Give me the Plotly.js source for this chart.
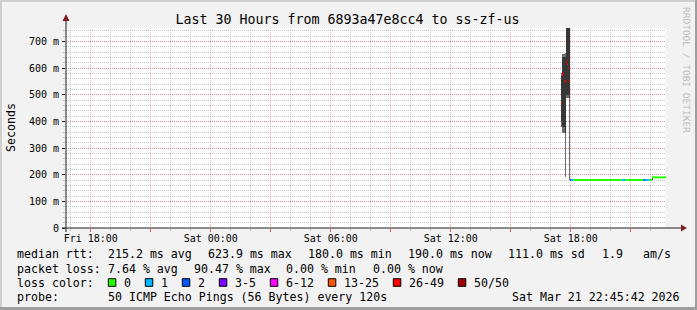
<!DOCTYPE html>
<html><head><meta charset="utf-8">
<script src="https://cdn.plot.ly/plotly-3.0.1.min.js"></script>
<style>
html,body{margin:0;padding:0;background:#f2f2f2;}
#wrap{position:relative;width:697px;height:310px;overflow:hidden;}
#chart{position:absolute;left:0;top:0;width:697px;height:310px;}
.b{position:absolute;pointer-events:none;}
</style></head><body>
<div id="wrap"><div id="chart"></div>
<div class="b" style="left:0;top:0;width:697px;height:2px;background:#cfcfcf"></div>
<div class="b" style="left:0;top:0;width:2px;height:310px;background:#cfcfcf"></div>
<div class="b" style="right:0;top:0;width:2px;height:310px;background:#9e9e9e"></div>
<div class="b" style="left:0;bottom:0;width:697px;height:3px;background:#9e9e9e"></div>
</div>
<script>
// ---------------- data ----------------
const titleText = 'Last 30 Hours from 6893a47e8cc4 to ss-zf-us';
const rangeStart = '2026-03-20 16:45:42';
const rangeEnd = '2026-03-21 22:45:42';

// smoke (ping spread) samples, centre time of each 3-minute bin, seconds
const smokeTimes = ['2026-03-21 17:32:12','2026-03-21 17:35:12','2026-03-21 17:38:12','2026-03-21 17:41:12',
  '2026-03-21 17:44:12','2026-03-21 17:47:12','2026-03-21 17:50:12','2026-03-21 17:53:12','2026-03-21 17:56:12',
  '2026-03-21 22:05:12'];
const smokeLow  = [0.380, 0.356, 0.356, 0.356, 0.190, 0.487, 0.487, 0.487, 0.180, 0.180];
const smokeHigh = [0.580, 0.652, 0.652, 0.652, 0.655, 0.850, 0.850, 0.850, 0.850, 0.190];
const coreLow   = [0.400, 0.380, 0.380, 0.380, 0.356, 0.500, 0.500, 0.500, 0.487, 0.180];
const coreHigh  = [0.570, 0.640, 0.640, 0.640, 0.640, 0.850, 0.850, 0.850, 0.850, 0.190];

// median rtt: each sample lasts until the next one (last one until rangeEnd)
const medTimes = ['2026-03-21 17:30:42','2026-03-21 17:33:42','2026-03-21 17:36:42','2026-03-21 17:39:42',
  '2026-03-21 17:42:42','2026-03-21 17:45:42','2026-03-21 17:48:42','2026-03-21 17:51:42','2026-03-21 17:54:42',
  '2026-03-21 17:57:42','2026-03-21 18:00:42','2026-03-21 18:07:42','2026-03-21 20:32:42','2026-03-21 20:42:42',
  '2026-03-21 21:37:42','2026-03-21 21:42:42','2026-03-21 21:55:42','2026-03-21 22:03:42'];
const medValues = [0.468, 0.575, 0.580, 0.552, 0.549, 0.624, 0.615, 0.599, 0.549,
  0.180, 0.180, 0.180, 0.180, 0.180, 0.180, 0.180, 0.180, 0.190];
const medLoss = [30, 30, 30, 30, 30, 30, 30, 30, 30, 2, 1, 0, 1, 0, 2, 1, 0, 0];

const lossLabels = ['0','1','2','3-5','6-12','13-25','26-49','50/50'];
const lossColors = ['#26ff00','#00b8ff','#0059ff','#7e00ff','#ff00ff','#ff5500','#ff0000','#a10000'];
const lossUpper  = [0, 1, 2, 5, 12, 25, 49, 50];

const yTickVals = [0, 0.1, 0.2, 0.3, 0.4, 0.5, 0.6, 0.7];
const yTickText = ['0','100 m','200 m','300 m','400 m','500 m','600 m','700 m'];

const rttLabel = 'median rtt:';
const rttStats = ['215.2 ms avg','623.9 ms max','180.0 ms min','190.0 ms now','111.0 ms sd','1.9','am/s'];
const lossLabel = 'packet loss:';
const lossStats = ['7.64 % avg','90.47 % max','0.00 % min','0.00 % now'];
const colorLabel = 'loss color:';
const probeLabel = 'probe:';
const probeText = '50 ICMP Echo Pings (56 Bytes) every 120s';
const stampText = 'Sat Mar 21 22:45:42 2026';
const watermark = 'RRDTOOL / TOBI OETIKER';

// ---------------- layout helpers ----------------
const L = 66, R = 666, T = 28, B = 228;
const px = v => (v - L) / (R - L);
const py = v => (B - v) / (B - T);
const FONT = 'DejaVu Sans Mono';
const GRID = 'rgba(143,143,143,0.5)';
const MGRID = 'rgba(222,79,79,0.45)';

const traces = [];
traces.push({type:'bar', x: smokeTimes, base: smokeLow, y: smokeHigh.map((h,i)=>h-smokeLow[i]),
  width: 180000, marker:{color:'#6e6e6e', line:{width:0}}, hoverinfo:'skip'});
traces.push({type:'bar', x: smokeTimes, base: coreLow, y: coreHigh.map((h,i)=>h-coreLow[i]),
  width: 180000, marker:{color:'#373737', line:{width:0}}, hoverinfo:'skip'});

function lossIdx(l){ for (let i=0;i<lossUpper.length;i++) if (l<=lossUpper[i]) return i; return lossUpper.length-1; }
const segs = lossColors.map(()=>({x:[], y:[]}));
medTimes.forEach((t,i)=>{
  const tEnd = i+1 < medTimes.length ? medTimes[i+1] : rangeEnd;
  const s = segs[lossIdx(medLoss[i])];
  s.x.push(t, tEnd, null); s.y.push(medValues[i], medValues[i], null);
});
segs.forEach((s,i)=>{ if (s.x.length) traces.push({type:'scatter', mode:'lines', x:s.x, y:s.y,
  line:{color:lossColors[i], width:2}, hoverinfo:'skip', connectgaps:false}); });

const annotations = [];
function ann(x, y, text, extra){ annotations.push(Object.assign({xref:'paper', yref:'paper', x:px(x), y:py(y),
  xanchor:'left', yanchor:'middle', text, showarrow:false, borderpad:0, font:{family:FONT, size:11.6, color:'#000'}}, extra||{})); }

const rowY = [254, 268.5, 282.5, 297];
ann(16, rowY[0], rttLabel);
[107.3, 207.3, 307.3, 407.3, 507.3, 600.5, 641.7].forEach((x,i)=>ann(x, rowY[0], rttStats[i]));
ann(16, rowY[1], lossLabel);
[107.3, 193.3, 285.3, 372.3].forEach((x,i)=>ann(x, rowY[1], lossStats[i]));
ann(16, rowY[2], colorLabel);
ann(16, rowY[3], probeLabel);
ann(107.3, rowY[3], probeText);
ann(681, rowY[3], stampText, {xanchor:'right'});
ann(11, 128, 'Seconds', {xanchor:'center', textangle:-90});
ann(687, 70, watermark, {xanchor:'center', textangle:90, font:{family:FONT, size:9.5, color:'#bcbcbc'}});

const shapes = [];
let bx = 108.3;
lossLabels.forEach((lab,i)=>{
  shapes.push({type:'rect', xref:'paper', yref:'paper', x0:px(bx), x1:px(bx+7.5), y0:py(rowY[2]+3.8), y1:py(rowY[2]-3.8),
    fillcolor:lossColors[i], line:{color:'#000', width:1}});
  ann(bx+14.4, rowY[2], lab);
  bx += 30 + 7*lab.length;
});
// axes with arrows
shapes.push({type:'line', xref:'paper', yref:'paper', x0:px(62), x1:px(682), y0:py(228), y1:py(228), line:{color:'#1f1f1f', width:1}});
shapes.push({type:'line', xref:'paper', yref:'paper', x0:px(66), x1:px(66), y0:py(232), y1:py(20), line:{color:'#1f1f1f', width:1}});
shapes.push({type:'path', xref:'paper', yref:'paper',
  path:`M ${px(687)},${py(228)} L ${px(681)},${py(224.5)} L ${px(681)},${py(231.5)} Z`, fillcolor:'#7f1f1f', line:{width:0}});
shapes.push({type:'path', xref:'paper', yref:'paper',
  path:`M ${px(66)},${py(14)} L ${px(62.5)},${py(21)} L ${px(69.5)},${py(21)} Z`, fillcolor:'#7f1f1f', line:{width:0}});

const layout = {
  width: 697, height: 310,
  margin: {l: L, r: 697-R, t: T, b: 310-B, pad: 0},
  paper_bgcolor: '#f2f2f2', plot_bgcolor: '#ffffff',
  showlegend: false, barmode: 'overlay', bargap: 0,
  font: {family: FONT, size: 10, color: '#000'},
  title: {text: titleText, font:{family: FONT, size: 13.3, color:'#000'}, xref:'container', yref:'container',
    x: 347.5/697, xanchor:'center', y: 1-19/310, yanchor:'middle'},
  xaxis: {type:'date', range:[rangeStart, rangeEnd], tick0:'2026-03-20 18:00:00', dtick: 3*3600000,
    ticklabelstep: 2, tickformat:'%a %H:%M', showline:false, zeroline:false,
    showgrid:true, gridcolor: MGRID, griddash:'1px,1px', gridwidth:1,
    ticks:'outside', ticklen:3, tickcolor:'rgba(222,79,79,0.9)', tickfont:{family:FONT, size:10},
    ticklabelstandoff: -2,
    minor:{dtick:3600000, tick0:'2026-03-20 18:00:00', showgrid:true, gridcolor: GRID, griddash:'1px,1px', gridwidth:1,
      ticks:'outside', ticklen:2, tickcolor: GRID}},
  yaxis: {range:[0, 0.75], tickmode:'array', tickvals: yTickVals, ticktext: yTickText,
    showline:false, zeroline:false, showgrid:true, gridcolor: MGRID, griddash:'1px,1px', gridwidth:1,
    ticks:'outside', ticklen:3, tickcolor:'#1f1f1f', tickfont:{family:FONT, size:10}, ticklabelstandoff: 1,
    minor:{dtick:0.02, tick0:0, showgrid:true, gridcolor: GRID, griddash:'1px,1px', gridwidth:1,
      ticks:'outside', ticklen:2, tickcolor: GRID}},
  shapes, annotations
};
Plotly.newPlot('chart', traces, layout, {staticPlot:true, displayModeBar:false});
</script></body></html>
